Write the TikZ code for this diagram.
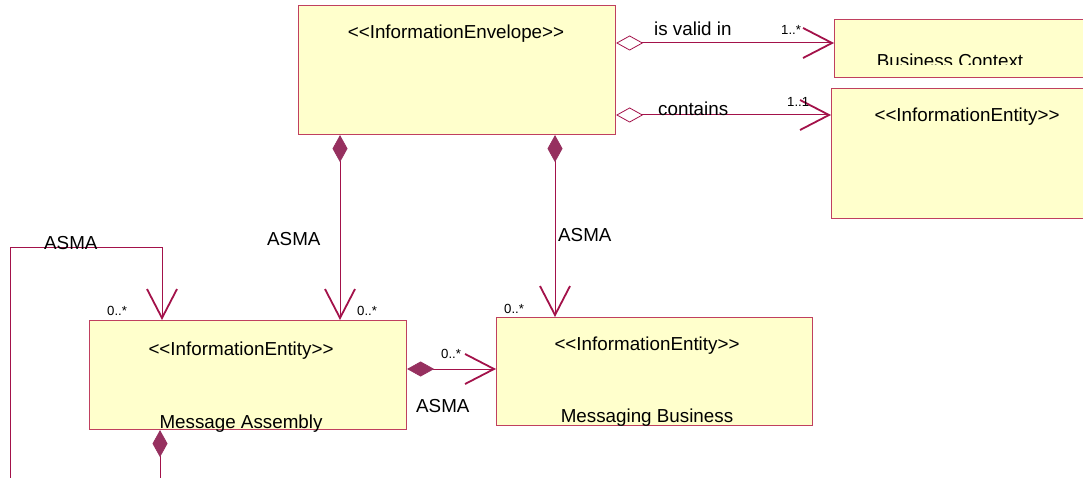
\documentclass[tikz,border=0pt]{standalone}
\usepackage{fontspec}
\newfontfamily\umlfont{Liberation Sans}
\usetikzlibrary{arrows.meta}
\definecolor{boxfill}{HTML}{FFFFCC}
\definecolor{boxline}{HTML}{C0405F}
\definecolor{wire}{HTML}{A3124A}
\definecolor{dia}{HTML}{96305F}
\begin{document}
\begin{tikzpicture}[x=1pt,y=-1pt,
  cls/.style={draw=boxline, fill=boxfill, line width=1.1pt, inner sep=0pt, anchor=north west},
  big/.style={font=\umlfont\fontsize{18.8}{20}\selectfont, inner sep=0pt},
  mult/.style={font=\umlfont\fontsize{13.2}{14}\selectfont, inner sep=0pt},
  assoc/.style={draw=wire, line width=1pt},
  barb/.tip={Straight Barb[length=29pt, width=30pt, line width=1.8pt]},
  comp/.style={assoc, {Diamond[length=27pt, width=15pt, fill=dia, color=dia, line width=0.6pt]}-barb},
  aggr/.style={assoc, {Diamond[open, length=27pt, width=15pt, line width=0.8pt]}-barb},
  nav/.style={assoc, -barb}]
\useasboundingbox (0,0) rectangle (1083,478);
\clip (0,0) rectangle (1083,478);

% classes
\node[cls, minimum width=317pt, minimum height=129pt] (env) at (298,5) {};
\node[cls, minimum width=260pt, minimum height=58pt] (bc) at (834,19) {};
\node[cls, minimum width=260pt, minimum height=130pt] (ie) at (831,88) {};
\node[cls, minimum width=317pt, minimum height=109pt] (ma) at (89,320) {};
\node[cls, minimum width=316pt, minimum height=108pt] (mb) at (496,317) {};

% class texts
\node[big, anchor=base] (envt) at (456,39) {<<InformationEnvelope>>};
\begin{scope}
  \clip (834,19) rectangle (1083,65);
  \node[big, anchor=base] (bct) at (950,68) {Business Context};
\end{scope}
\node[big, anchor=base] (iet) at (967,122) {<<InformationEntity>>};
\node[big, anchor=base] (mat) at (241,355) {<<InformationEntity>>};
\node[big, anchor=base] (man) at (241,428) {Message Assembly};
\node[big, anchor=base] (mbt) at (647,350) {<<InformationEntity>>};
\node[big, anchor=base] (mbn) at (647,422) {Messaging Business};

% helper coordinates for connector lines
\coordinate (r1) at (0,43);
\coordinate (r2) at (0,115);
\coordinate (c1) at (340,0);
\coordinate (c2) at (555,0);
\coordinate (h1) at (0,369);
\coordinate (lp0) at (10,478);
\coordinate (lpc) at (162,247);
\coordinate (bt) at (160,478);

% associations
\draw[aggr] (env.east |- r1) -- (bc.west |- r1);
\draw[aggr] (env.east |- r2) -- (ie.west |- r2);
\draw[comp] (env.south -| c1) -- (ma.north -| c1);
\draw[comp] (env.south -| c2) -- (mb.north -| c2);
\draw[comp] (ma.east |- h1) -- (mb.west |- h1);
\draw[nav] (lp0) |- (lpc) -- (ma.north -| lpc);
\draw[assoc, {Diamond[length=27pt, width=15pt, fill=dia, color=dia, line width=0.6pt]}-] (ma.south -| bt) -- (bt);

% association labels
\node[big, anchor=base west] (l1) at (654,36) {is valid in};
\node[mult, anchor=base west] (m1) at (781,35) {1..*};
\node[big, anchor=base west] (l2) at (658,116) {contains};
\node[mult, anchor=base west] (m2) at (787,107) {1..1};
\node[big, anchor=base west] (l3) at (267,245) {ASMA};
\node[mult, anchor=base west] (m3) at (357,315) {0..*};
\node[big, anchor=base west] (l4) at (558,241) {ASMA};
\node[mult, anchor=base west] (m4) at (504,313) {0..*};
\node[big, anchor=base west] (l5) at (44,250) {ASMA};
\node[mult, anchor=base west] (m5) at (107,315) {0..*};
\node[mult, anchor=base west] (m6) at (441,358) {0..*};
\node[big, anchor=base west] (l6) at (416,412) {ASMA};
\end{tikzpicture}
\end{document}
